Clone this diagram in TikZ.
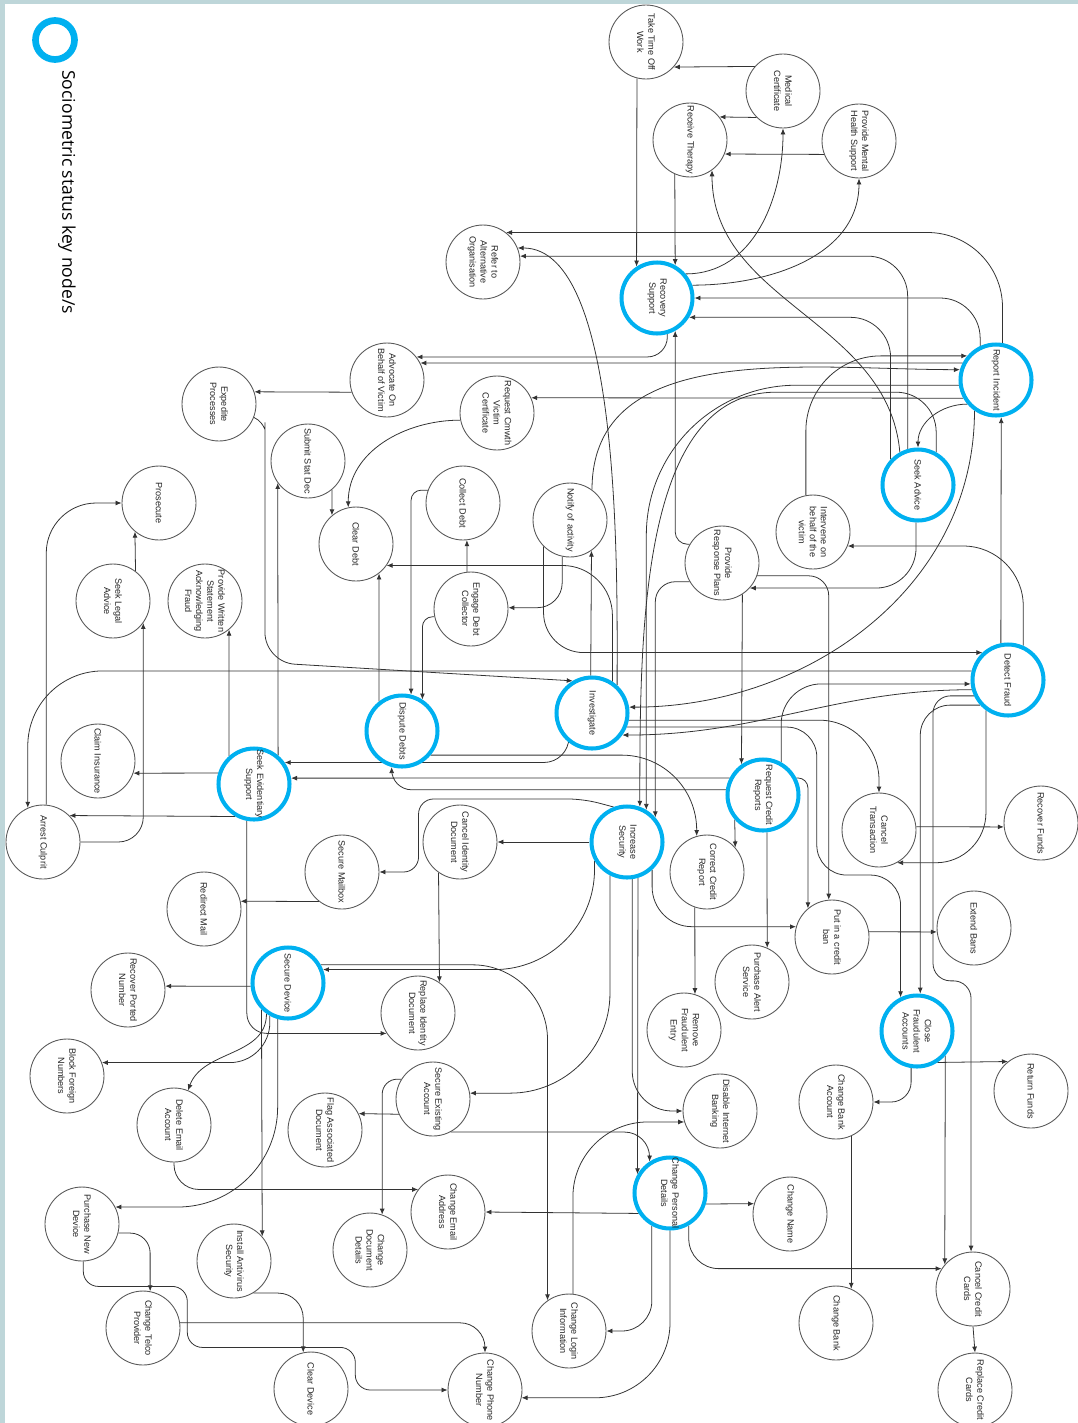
\documentclass[tikz,border=0pt]{standalone}
\usepackage{fontspec}
\setmainfont{Liberation Sans}
\newfontfamily\legendfont{Open Sans}
\usepackage{tikz}
\usetikzlibrary{arrows.meta, backgrounds}
\definecolor{keyblue}{RGB}{0,176,240}
\definecolor{framegray}{RGB}{190,214,217}
\tikzset{
    act_node/.style={circle, draw=black!65, fill=white, line width=0.5pt, minimum size=1.48cm, inner sep=0pt},
    key_node/.style={act_node, draw=keyblue, line width=2.3pt, minimum size=1.42cm},
    act_text/.style={rotate=-90, align=center, inner sep=0pt, text=black!85, font=\fontsize{5.2}{6.3}\selectfont},
    arrow/.style={draw=black!80, line width=0.45pt, -{Latex[length=3.4pt, width=2.8pt]}}
}

\begin{document}
\begin{tikzpicture}[x=0.02cm, y=-0.02cm]
    \useasboundingbox (0,0) rectangle (1078,1423);
    % Frame
    \fill[framegray] (0,0) rectangle (1078,4);
    \fill[framegray] (0,0) rectangle (5,1423);

    % Legend
    \node[circle, draw=keyblue, line width=3.8pt, minimum size=0.78cm, inner sep=0pt] (legend) at (55,40) {};
    \node[rotate=-90, anchor=west, inner sep=0pt, font=\legendfont\fontsize{10}{12}\selectfont] (legendtext) at (67,70) {Sociometric status key node/s};

    % Recovery and reporting
    \node[act_node, label={[act_text]center:Take Time Off\\Work}] (takeoff) at (646,42) {};
    \node[act_node, label={[act_text]center:Medical\\Certificate}] (medcert) at (783,91) {};
    \node[act_node, label={[act_text]center:Receive Therapy}] (therapy) at (690,140) {};
    \node[act_node, label={[act_text]center:Provide Mental\\Health Support}] (mental) at (859,141) {};
    \node[act_node, label={[act_text]center:Refer to\\Alternative\\Organisation}] (refer) at (483,262) {};
    \node[key_node, label={[act_text]center:Recovery\\Support}] (recov) at (657,298) {};
    \node[key_node, label={[act_text]center:Report Incident}] (report) at (996,380) {};
    \node[act_node, label={[act_text]center:Advocate On\\Behalf of Victim}] (advocate) at (387,380) {};
    \node[act_node, label={[act_text]center:Request Cmwth\\Victim\\Certificate}] (crimecert) at (497,413) {};
    \node[act_node, label={[act_text]center:Expedite\\Processes}] (expedite) at (219,404) {};
    \node[act_node, label={[act_text]center:Submit Stat Dec}] (statdec) at (308,461) {};
    \node[key_node, label={[act_text]center:Seek Advice}] (seekadv) at (918,485) {};
    \node[act_node, label={[act_text]center:Intervene on\\behalf of the\\victim}] (intervene) at (813,532) {};
    \node[act_node, label={[act_text]center:Collect Debt}] (collect) at (463,503) {};
    \node[act_node, label={[act_text]center:Notify of activity}] (notify) at (570,520) {};
    \node[act_node, label={[act_text]center:Prosecute}] (prosecute) at (159,503) {};
    \node[act_node, label={[act_text]center:Clear Debt}] (cleardebt) at (356,544) {};
    \node[act_node, label={[act_text]center:Provide\\Response Plans}] (plans) at (722,563) {};
    \node[act_node, label={[act_text]center:Engage Debt\\Collector}] (engage) at (471,609) {};
    \node[act_node, label={[act_text]center:Seek Legal\\Advice}] (legal) at (113,601) {};
    \node[act_node, label={[act_text]center:Provide Written\\Statement\\Acknowledging\\Fraud}] (written) at (205,601) {};

    % Investigation
    \node[key_node, label={[act_text]center:Detect Fraud}] (detect) at (1008,680) {};
    \node[key_node, label={[act_text]center:Investigate}] (invest) at (592,713) {};
    \node[key_node, label={[act_text]center:Dispute Debts}] (dispute) at (402,731) {};
    \node[act_node, label={[act_text]center:Claim Insurance}] (claim) at (98,761) {};
    \node[key_node, label={[act_text]center:Seek Evidentiary\\Support}] (evidence) at (254,784) {};
    \node[key_node, label={[act_text]center:Request Credit\\Reports}] (credit) at (763,795) {};
    \node[act_node, label={[act_text]center:Arrest Culprit}] (arrest) at (43,842) {};
    \node[act_node, label={[act_text]center:Cancel Identity\\Document}] (cancelid) at (460,842) {};
    \node[key_node, label={[act_text]center:Increase\\Security}] (incsec) at (627,842) {};
    \node[act_node, label={[act_text]center:Cancel\\Transaction}] (canceltx) at (879,830) {};
    \node[act_node, label={[act_text]center:Recover Funds}] (recfunds) at (1041,823) {};
    \node[act_node, label={[act_text]center:Secure Mailbox}] (mailbox) at (342,872) {};
    \node[act_node, label={[act_text]center:Correct Credit\\Report}] (correct) at (707,872) {};
    \node[act_node, label={[act_text]center:Redirect Mail}] (redirect) at (204,909) {};
    \node[act_node, label={[act_text]center:Put in a credit\\ban}] (ban) at (832,937) {};
    \node[act_node, label={[act_text]center:Extend Bans}] (extend) at (974,928) {};
    \node[act_node, label={[act_text]center:Purchase Alert\\Service}] (alert) at (752,982) {};

    % Securing accounts and devices
    \node[key_node, label={[act_text]center:Secure Device}] (secdev) at (288,983) {};
    \node[act_node, label={[act_text]center:Recover Ported\\Number}] (ported) at (128,990) {};
    \node[act_node, label={[act_text]center:Replace Identity\\Document}] (replaceid) at (418,1013) {};
    \node[act_node, label={[act_text]center:Remove\\Fraudulent\\Entry}] (removeent) at (684,1030) {};
    \node[key_node, label={[act_text]center:Close\\Fraudulent\\Accounts}] (closeacc) at (917,1031) {};
    \node[act_node, label={[act_text]center:Block Foreign\\Numbers}] (block) at (67,1076) {};
    \node[act_node, label={[act_text]center:Return Funds}] (retfunds) at (1031,1091) {};
    \node[act_node, label={[act_text]center:Delete Email\\Account}] (delemail) at (174,1125) {};
    \node[act_node, label={[act_text]center:Flag Associated\\Document}] (flagdoc) at (325,1130) {};
    \node[act_node, label={[act_text]center:Secure Existing\\Account}] (secacc) at (433,1099) {};
    \node[act_node, label={[act_text]center:Disable Internet\\Banking}] (disable) at (720,1111) {};
    \node[act_node, label={[act_text]center:Change Bank\\Account}] (chbankacc) at (836,1102) {};
    \node[key_node, label={[act_text]center:Change Personal\\Details}] (chpers) at (670,1193) {};
    \node[act_node, label={[act_text]center:Change Name}] (chname) at (790,1214) {};
    \node[act_node, label={[act_text]center:Change Email\\Address}] (chemail) at (448,1212) {};
    \node[act_node, label={[act_text]center:Purchase New\\Device}] (newdev) at (82,1224) {};
    \node[act_node, label={[act_text]center:Install Antivirus\\Security}] (antivirus) at (234,1261) {};
    \node[act_node, label={[act_text]center:Change\\Document\\Details}] (chdoc) at (370,1250) {};
    \node[act_node, label={[act_text]center:Cancel Credit\\Cards}] (cancelcc) at (973,1289) {};
    \node[act_node, label={[act_text]center:Change Bank}] (chbank) at (836,1323) {};
    \node[act_node, label={[act_text]center:Change Telco\\Provider}] (chtelco) at (143,1328) {};
    \node[act_node, label={[act_text]center:Change Login\\Information}] (chlogin) at (569,1331) {};
    \node[act_node, label={[act_text]center:Clear Device}] (cleardev) at (311,1389) {};
    \node[act_node, label={[act_text]center:Change Phone\\Number}] (chphone) at (485,1390) {};
    \node[act_node, label={[act_text]center:Replace Credit\\Cards}] (replcc) at (975,1390) {};

    \begin{scope}[on background layer]
    % Straight connections
    \foreach \a/\b in {medcert.139/takeoff.-42, takeoff.-104/recov.123, medcert.225/therapy.38,
        mental.201/therapy.-22, therapy.-114/recov.61, report.153/advocate.27, advocate.199/expedite.19,
        report.209/crimecert.24, statdec.-50/cleardebt.130, evidence.50/statdec.-144, engage.96/collect.-84,
        invest.92/notify.-55, dispute.128/cleardebt.-52, detect.101/report.-82, plans.-57/credit.125,
        incsec.west/cancelid.east, cancelid.-125/replaceid.55, mailbox.232/redirect.12, secdev.185/ported.6,
        secdev.-135/antivirus.41, secacc.204/flagdoc.26, correct.-109/removeent.73, credit.-139/correct.41,
        credit.-84/alert.66, ban.8/extend.186, canceltx.5/recfunds.186, credit.153/evidence.9,
        evidence.163/claim.-19, evidence.240/arrest.45, evidence.132/written.-50, legal.53/prosecute.-130,
        closeacc.-57/retfunds.128, closeacc.-41/cancelcc.139, incsec.-73/chpers.150, chbankacc.-66/chbank.66,
        cancelcc.south/replcc.north, chpers.-17/chname.164, chpers.213/chemail.east}
        \draw[arrow] (\a) -- (\b);

    % Recovery connections
    \draw[arrow] (recov.40) to[out=0, in=-90] (medcert.south);
    \draw[arrow] (recov.20) to[out=0, in=-90] (mental.south);
    \draw[arrow, rounded corners=1.5cm] (report.80) |- (refer.52);
    \draw[arrow, rounded corners=0.8cm] (report.115) |- (recov.east);
    \draw[arrow, rounded corners=0.8cm] (seekadv.137) |- (recov.-31);
    \draw[arrow, rounded corners=0.8cm] (seekadv.106) |- (refer.9);
    \draw[arrow] (seekadv.119) to[out=95, in=-90] (therapy.-54);
    \draw[arrow] (invest.48) to[out=90, in=0, looseness=0.6] (refer.22);
    \draw[arrow, rounded corners=0.4cm] (recov.-74) |- (advocate.38);
    \draw[arrow, rounded corners=0.25cm] (plans.150) -| (recov.-61);

    % Report and advice connections
    \draw[arrow, rounded corners=0.6cm] (expedite.-21) to[out=-25, in=90] ++(11,35) -- ++(0,210) -- (invest.121);
    \draw[arrow] (crimecert.191) to[out=180, in=90] (cleardebt.102);
    \draw[arrow, rounded corners=0.2cm] (collect.160) -| (dispute.76);
    \draw[arrow, rounded corners=0.2cm] (engage.192) -| (dispute.57);
    \draw[arrow, rounded corners=0.5cm] (notify.-102) |- (engage.2);
    \draw[arrow, rounded corners=1cm] (invest.57) |- (cleardebt.-35);
    \draw[arrow, rounded corners=0.8cm] (notify.-135) |- (detect.133);
    \draw[arrow] (notify.54) to[out=90, in=180] (report.164);
    \draw[arrow, rounded corners=1.2cm] (detect.66) |- (intervene.-22);
    \draw[arrow, rounded corners=0.8cm] (seekadv.-93) |- (plans.-42);
    \draw[arrow, rounded corners=0.4cm] (plans.-20) -| (ban.95);
    \draw[arrow, rounded corners=1.5cm] (intervene.101) |- (report.140);
    \draw[arrow] (report.-140) to[out=180, in=90] (seekadv.north);
    \draw[arrow] (report.-125) to[out=-90, in=0] (invest.9);
    \draw[arrow, rounded corners=3cm] (report.188) -| (incsec.59);
    \draw[arrow, rounded corners=0.8cm] (seekadv.61) |- ++(-120,-60) to[out=180, in=90] (incsec.70);
    \draw[arrow, rounded corners=0.4cm] (plans.-150) -| (incsec.41);

    % Investigation connections
    \draw[arrow, rounded corners=0.3cm] (incsec.111) -- ++(-30,-8) -- ++(-165,0) |- (mailbox.east);
    \draw[arrow, rounded corners=0.4cm] (evidence.-101) |- (replaceid.213);
    \draw[arrow, rounded corners=1.5cm] (dispute.-40) -| (correct.106);
    \draw[arrow, rounded corners=0.2cm] (credit.27) -| (ban.130);
    \draw[arrow, rounded corners=1cm] (detect.-126) |- (canceltx.-61);
    \draw[arrow, rounded corners=1.2cm] (invest.-11) -| (canceltx.north);
    \draw[arrow] (detect.195) to[out=180, in=0] (invest.-36);
    \draw[arrow, rounded corners=1.5cm] (detect.166) -| (arrest.114);
    \draw[arrow, rounded corners=0.4cm] (credit.172) -| (dispute.-106);
    \draw[arrow, rounded corners=0.5cm] (invest.-128) |- (evidence.35);
    \draw[arrow, rounded corners=1cm] (arrest.85) |- (prosecute.west);
    \draw[arrow, rounded corners=0.5cm] (arrest.east) -| (legal.-36);
    \draw[arrow, rounded corners=0.8cm] (credit.61) |- (detect.186);
    \draw[arrow, rounded corners=0.8cm] (incsec.-48) |- (ban.164);

    % Closing accounts
    \draw[arrow, rounded corners=0.4cm] (closeacc.-99) |- (chbankacc.east);
    \draw[arrow, rounded corners=0.35cm] (detect.205) -| ++(-41,285) -| (cancelcc.93);
    \draw[arrow, rounded corners=0.6cm] (detect.222) -| (closeacc.85);
    \draw[arrow, rounded corners=0.6cm] (invest.-22) -| ++(190,148) -| (closeacc.116);

    % Securing devices and details
    \draw[arrow, rounded corners=0.8cm] (secdev.-119) |- (block.21);
    \draw[arrow] (secdev.-125) to[out=-90, in=70] (delemail.68);
    \draw[arrow, rounded corners=2cm] (secdev.-106) |- (newdev.27);
    \draw[arrow, rounded corners=0.5cm] (antivirus.-59) -| (cleardev.102);
    \draw[arrow, rounded corners=0.4cm] (newdev.-14) -| (chtelco.79);
    \draw[arrow, rounded corners=0.3cm] (newdev.-88) |- ++(104,25) |- ++(168,61) |- (chphone.west);
    \draw[arrow, rounded corners=0.5cm] (chtelco.8) -| (chphone.north);
    \draw[arrow, rounded corners=0.5cm] (delemail.south) |- (chemail.143);
    \draw[arrow, rounded corners=0.3cm] (secacc.148) -| (chdoc.71);
    \draw[arrow, rounded corners=0.5cm] (secacc.-62) -| (chpers.123);
    \draw[arrow, rounded corners=2cm] (incsec.-117) |- (secacc.9);
    \draw[arrow, rounded corners=2cm] (incsec.-150) |- (secdev.21);
    \draw[arrow, rounded corners=1.5cm] (secdev.29) -| (chlogin.125);
    \draw[arrow, rounded corners=0.8cm] (incsec.-82) |- (disable.west);
    \draw[arrow, rounded corners=1.5cm] (chlogin.84) |- (disable.197);
    \draw[arrow, rounded corners=0.6cm] (chpers.-119) |- (chlogin.east);
    \draw[arrow, rounded corners=1.5cm] (chpers.south) |- (chphone.-12);
    \draw[arrow, rounded corners=0.6cm] (chpers.-60) |- (cancelcc.147);
    \end{scope}
\end{tikzpicture}
\end{document}
